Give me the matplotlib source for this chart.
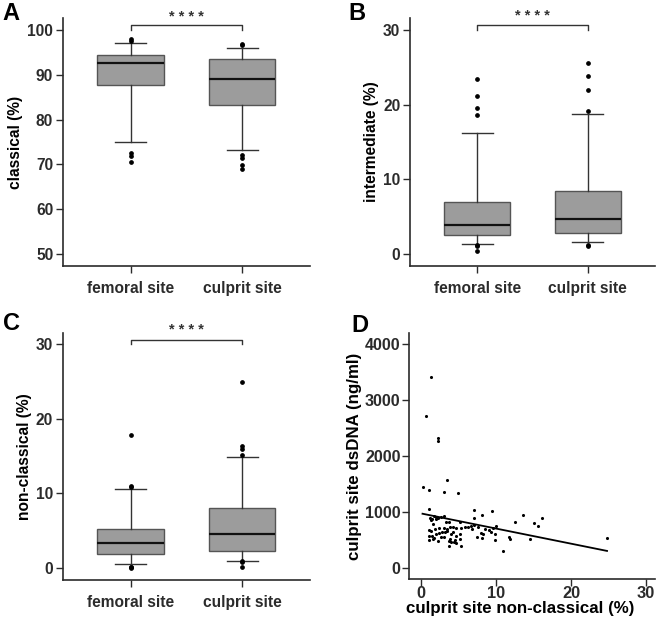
import numpy as np
import matplotlib
matplotlib.use('Agg')
import matplotlib.pyplot as plt

plt.rcParams['font.family'] = ['Liberation Sans', 'DejaVu Sans']
plt.rcParams['font.weight'] = 'bold'

sites = ['femoral site', 'culprit site']

# panel A - classical (%)
cls_q1 = [87.8, 83.2]
cls_med = [92.6, 89.1]
cls_q3 = [94.4, 93.5]
cls_lo = [74.9, 73.2]
cls_hi = [97.1, 96.0]
cls_out = [[97.9, 97.6, 72.5, 71.9, 70.5], [97.0, 96.7, 72.0, 71.5, 69.9, 68.9]]

# panel B - intermediate (%)
int_q1 = [2.54, 2.86]
int_med = [3.84, 4.7]
int_q3 = [6.9, 8.4]
int_lo = [1.34, 1.6]
int_hi = [16.2, 18.8]
int_out = [[23.4, 21.1, 19.6, 18.6, 1.16, 1.07, 0.45], [25.6, 23.9, 21.9, 19.1, 1.2, 1.1]]

# panel C - non-classical (%)
ncl_q1 = [1.88, 2.3]
ncl_med = [3.3, 4.55]
ncl_q3 = [5.18, 8.1]
ncl_lo = [0.58, 1.0]
ncl_hi = [10.6, 14.9]
ncl_out = [[17.8, 11.0, 10.85, 0.2, 0.13, 0.05], [24.95, 16.4, 15.9, 15.2, 0.95, 0.85, 0.13]]

# panel D - culprit site non-classical (%) vs dsDNA (ng/ml)
nc_x = [0.2, 1.0, 0.7, 1.3, 2.2, 2.2, 3.4, 3.1, 4.9,
        1.0, 7.0, 9.4, 8.1, 13.6, 7.0, 12.5, 15.1, 15.6, 16.1, 14.5, 24.8, 11.9, 11.7,
        1.2, 1.5, 1.7, 2.0, 2.3, 2.7, 3.0, 1.3, 2.0, 3.3, 3.7, 5.2,
        1.0, 1.3, 1.8, 2.4, 3.0, 3.5, 3.8, 4.3, 4.7, 5.3, 5.8, 6.2, 6.6, 7.0, 1.6, 2.8, 4.2,
        1.0, 1.4, 1.7, 2.0, 2.4, 2.6, 3.2, 3.5, 4.0, 4.6, 5.2, 1.0, 1.6, 2.2, 3.0, 3.8, 4.5, 5.2,
        3.7, 4.0, 4.4, 5.3, 3.7, 4.6,
        7.4, 8.0, 8.3, 8.1, 9.0, 9.3, 9.6, 10.0, 9.9, 9.9, 10.9, 7.6, 8.5, 6.8]
dsdna = [1440, 1395, 2715, 3405, 2325, 2275, 1580, 1365, 1345,
         1050, 1040, 1025, 950, 945, 895, 815, 805, 750, 885, 525, 540, 515, 550,
         900, 880, 930, 920, 900, 920, 930, 850, 870, 830, 820, 830,
         680, 660, 690, 720, 720, 700, 740, 730, 720, 710, 740, 740, 750, 760, 780, 650, 650,
         580, 570, 540, 600, 620, 560, 640, 660, 600, 580, 610, 500, 510, 490, 550, 520, 500, 520,
         400, 470, 460, 400, 480, 440,
         560, 620, 610, 540, 680, 650, 720, 750, 600, 500, 310, 730, 700, 700]
fit_intercept = 975
fit_slope = -27.0

ink = '#2b2b2b'


def style_axes(ax, fs):
    for side in ['top', 'right']:
        ax.spines[side].set_visible(False)
    for side in ['left', 'bottom']:
        ax.spines[side].set_color(ink)
        ax.spines[side].set_linewidth(1.2)
    ax.tick_params(colors=ink, length=5, width=1, labelsize=fs)
    ax.tick_params(axis='y', pad=2)


def box_panel(ax, q1, med, q3, lo, hi, out, ylabel, ylim, yticks, bracket_y, star_y):
    stats = []
    for i in range(2):
        stats.append(dict(q1=q1[i], med=med[i], q3=q3[i], whislo=lo[i], whishi=hi[i],
                          fliers=out[i], label=sites[i]))
    ax.bxp(stats, positions=[1, 2], widths=0.6, patch_artist=True, showfliers=True,
           boxprops=dict(facecolor='#9c9c9c', edgecolor='#555555', linewidth=1),
           medianprops=dict(color='#111111', linewidth=1.6),
           whiskerprops=dict(color='#333333', linewidth=1),
           capprops=dict(color='#333333', linewidth=1),
           capwidths=0.28,
           flierprops=dict(marker='o', markersize=2.4, markerfacecolor='black',
                           markeredgecolor='black'))
    style_axes(ax, 11.2)
    ax.set_xlim(0.39, 2.61)
    ax.set_ylim(*ylim)
    ax.set_yticks(yticks)
    ax.tick_params(axis='x', pad=6)
    ax.set_ylabel(ylabel, fontsize=11.2, fontweight='bold', labelpad=3)
    ax.plot([1, 1, 2, 2], [yticks[-1], bracket_y, bracket_y, yticks[-1]], color='#333333',
            lw=1, clip_on=False)
    ax.text(1.5, star_y, '* * * *', ha='center', va='center', fontsize=10.5,
            fontweight='bold', color='#333333', clip_on=False)


fig = plt.figure(figsize=(6.58, 6.18), dpi=100)
axA = fig.add_axes([0.0957, 0.5696, 0.3754, 0.4013])
axB = fig.add_axes([0.6231, 0.5696, 0.3723, 0.4013])
axC = fig.add_axes([0.0957, 0.0615, 0.3754, 0.3997])
axD = fig.add_axes([0.6216, 0.0631, 0.3739, 0.398])

box_panel(axA, cls_q1, cls_med, cls_q3, cls_lo, cls_hi, cls_out, 'classical (%)',
          (47.3, 102.7), [50, 60, 70, 80, 90, 100], 101.1, 103.0)
box_panel(axB, int_q1, int_med, int_q3, int_lo, int_hi, int_out, 'intermediate (%)',
          (-1.6, 31.6), [0, 10, 20, 30], 30.67, 31.9)
box_panel(axC, ncl_q1, ncl_med, ncl_q3, ncl_lo, ncl_hi, ncl_out, 'non-classical (%)',
          (-1.6, 31.5), [0, 10, 20, 30], 30.55, 31.9)

# panel D scatter + regression
axD.scatter(nc_x, dsdna, s=5, color='black', zorder=3, linewidths=0)
xs = np.array([min(nc_x), max(nc_x)])
axD.plot(xs, fit_intercept + fit_slope * xs, color='black', lw=1.3)
style_axes(axD, 12.2)
axD.set_xlim(-1.6, 31.2)
axD.set_ylim(-196, 4196)
axD.set_xticks([0, 10, 20, 30])
axD.set_yticks([0, 1000, 2000, 3000, 4000])
axD.tick_params(axis='x', pad=0, labelsize=11.8)
axD.tick_params(axis='y', pad=1, labelsize=11.6)
axD.set_xlabel('culprit site non-classical (%)', fontsize=12.2, fontweight='bold')
axD.xaxis.set_label_coords(0.452, -0.09)
axD.set_ylabel('culprit site dsDNA (ng/ml)', fontsize=12.2, fontweight='bold')
axD.yaxis.set_label_coords(-0.19, 0.5)

for letter, (px, py) in zip('ABCD', [(11, 14), (357, 14), (11, 324), (360, 326)]):
    fig.text(px / 658, 1 - py / 618, letter, fontsize=17, fontweight='bold',
             ha='center', va='center', color='black')

fig.savefig('out.png', dpi=100)
